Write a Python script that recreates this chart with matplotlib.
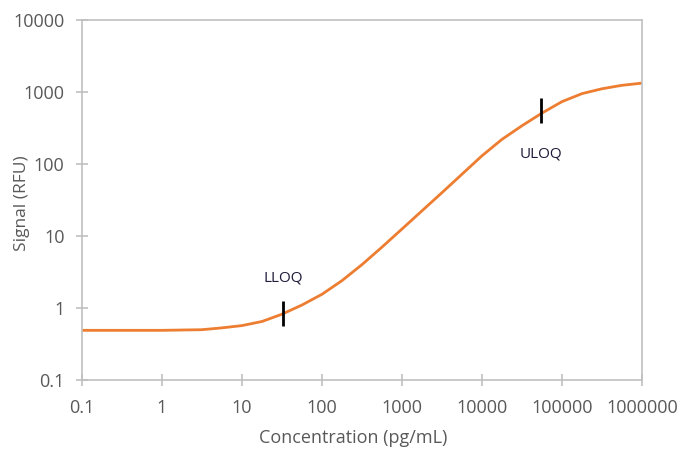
import matplotlib
matplotlib.use("Agg")
import matplotlib.pyplot as plt

# curve (concentration pg/mL, signal RFU)
conc = [0.1, 0.316, 1, 3.16, 5.62, 10, 17.8, 31.6, 56.2, 100, 178, 316, 562,
        1000, 3162, 10000, 17783, 31623, 56234, 100000, 177828, 316228, 562341, 1000000]
signal = [0.49, 0.49, 0.49, 0.50, 0.53, 0.57, 0.65, 0.82, 1.10, 1.55, 2.4, 4.0, 7.0,
          12.5, 40, 130, 220, 340, 510, 735, 950, 1110, 1240, 1330]

# quantification limits: x position and vertical bar extent
loq_names = ["LLOQ", "ULOQ"]
loq_x = [33, 55000]
loq_low = [0.56, 370]
loq_high = [1.25, 830]

x_ticks = [0.1, 1, 10, 100, 1000, 10000, 100000, 1000000]
x_labels = ["0.1", "1", "10", "100", "1000", "10000", "100000", "1000000"]
y_ticks = [0.1, 1, 10, 100, 1000, 10000]
y_labels = ["0.1", "1", "10", "100", "1000", "10000"]

plt.rcParams["font.family"] = ["Open Sans", "DejaVu Sans"]

fig = plt.figure(figsize=(6.94, 4.66), dpi=100)
ax = fig.add_axes([0.118, 0.1845, 0.807, 0.7725])

ax.plot(conc, signal, color="#ED7D31", linewidth=2, solid_capstyle="round")
ax.vlines(loq_x, loq_low, loq_high, color="black", linewidth=2)

ax.set_xscale("log")
ax.set_yscale("log")
ax.set_xlim(0.1, 1000000)
ax.set_ylim(0.1, 10000)
ax.set_xticks(x_ticks)
ax.set_xticklabels(x_labels)
ax.set_yticks(y_ticks)
ax.set_yticklabels(y_labels)
ax.minorticks_off()

ax.text(loq_x[0], 2.6, loq_names[0], ha="center", va="center", fontsize=11, color="#1f1a3a")
ax.text(loq_x[1], 140, loq_names[1], ha="center", va="center", fontsize=11, color="#1f1a3a")

for s in ax.spines.values():
    s.set_color("#c0c0c0")
    s.set_linewidth(1.2)

ax.tick_params(axis="both", direction="inout", length=9, width=1.2, color="#c0c0c0",
               labelcolor="#595959", labelsize=13)
ax.tick_params(axis="x", pad=9)
ax.tick_params(axis="y", pad=8)

ax.set_xlabel("Concentration (pg/mL)", fontsize=13, color="#595959")
ax.set_ylabel("Signal (RFU)", fontsize=12.5, color="#595959")
ax.xaxis.set_label_coords(0.484, -0.135)
ax.yaxis.set_label_coords(-0.107, 0.49)
ax.yaxis.label.set_va("center")

fig.savefig("out.png", dpi=100)
